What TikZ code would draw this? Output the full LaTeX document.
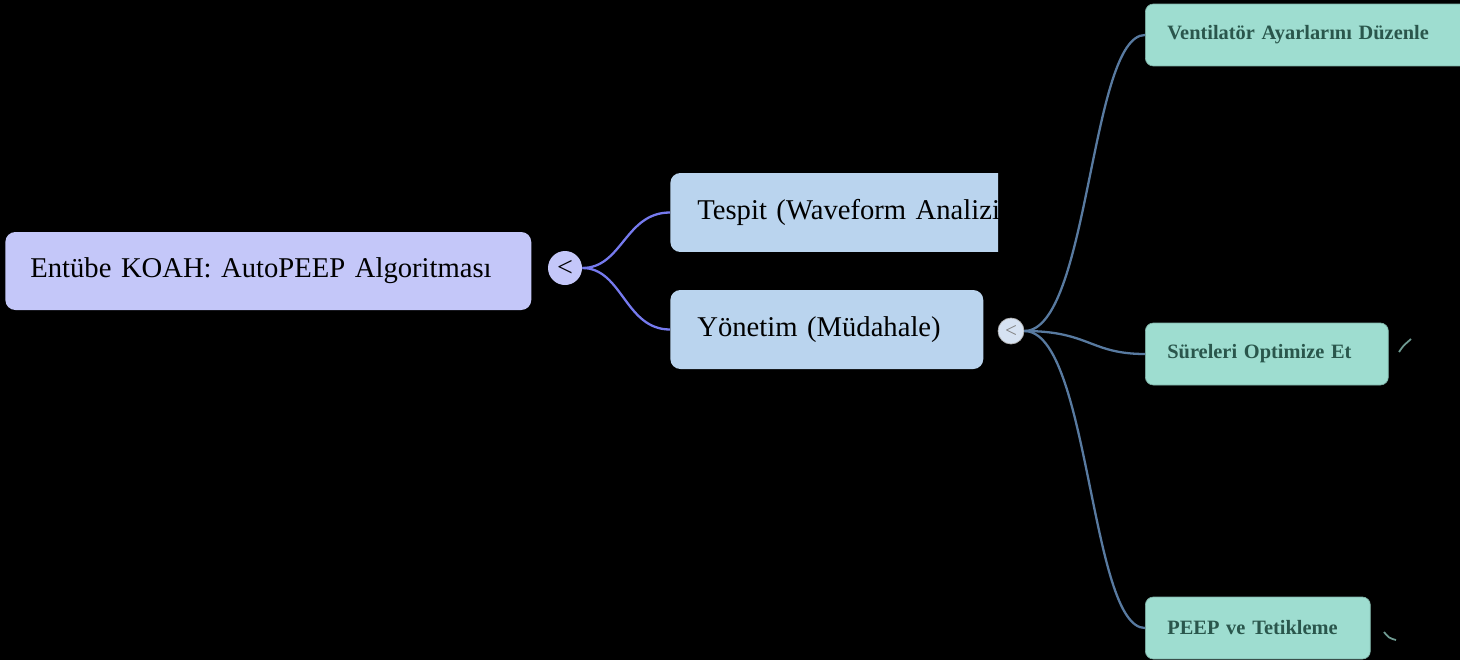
\documentclass[tikz,border=0pt]{standalone}
\usepackage{fontspec}
\setmainfont{Liberation Serif}
\usepackage{tikz}
\usetikzlibrary{positioning, calc}

\definecolor{rootfill}{RGB}{196,199,249}
\definecolor{rootedge}{RGB}{118,122,238}
\definecolor{midfill}{RGB}{186,212,238}
\definecolor{tglfill}{RGB}{214,226,242}
\definecolor{leafedge}{RGB}{88,122,160}
\definecolor{leaffill}{RGB}{158,221,208}
\definecolor{leaftext}{RGB}{42,86,76}

\begin{document}
\begin{tikzpicture}[
    x=0.02cm, y=-0.02cm,
    rootbox/.style={rectangle, rounded corners=0.2cm, fill=rootfill, anchor=west,
        minimum height=1.56cm, inner xsep=0.5cm, align=left,
        font=\fontsize{16.3}{19}\selectfont},
    midbox/.style={rectangle, rounded corners=0.2cm, fill=midfill, anchor=west,
        minimum height=1.58cm, inner xsep=0.54cm, align=left,
        font=\fontsize{16.3}{19}\selectfont},
    leafbox/.style={rectangle, rounded corners=0.16cm, fill=leaffill, draw=leaffill!80!black,
        line width=0.4pt, anchor=west, minimum height=1.24cm, inner xsep=0.44cm,
        align=left, text=leaftext, font=\fontsize{11.6}{14}\selectfont\bfseries},
    toggle/.style={circle, inner sep=0pt, font=\fontsize{16}{16}\selectfont},
    rootlink/.style={draw=rootedge, line width=1.3pt},
    leaflink/.style={draw=leafedge, line width=1.3pt},
]
\fill[black] (0,0) rectangle (1460,660);
\useasboundingbox (0,0) rectangle (1460,660);
\clip (0,0) rectangle (1460,660);

% root and its toggle
\node[rootbox, text width=9.52cm](root) at (5,271){\mbox{Entübe KOAH: AutoPEEP Algoritması}};
\node[toggle, fill=rootfill, minimum size=0.68cm](tgl1) at (565,268){<};

% second level
\begin{scope}
\clip (660,160) rectangle (998,260);
\node[midbox, text width=7cm](tespit) at (670,212.5){Tespit (Waveform Analizi};
\end{scope}
\node[midbox, text width=5.18cm](yonetim) at (670,329.5){Yönetim (Müdahale)};
\node[toggle, fill=tglfill, draw=gray!60, minimum size=0.52cm, text=gray,
    font=\fontsize{12}{12}\selectfont](tgl2) at (1011,331){<};

\draw[rootlink] (tgl1.east) .. controls +(40,0) and +(-45,0) .. (tespit.west);
\draw[rootlink] (tgl1.east) .. controls +(40,0) and +(-45,0) .. (yonetim.west);

% leaves
\node[leafbox, text width=8cm](ventilator) at (1145,35){Ventilatör Ayarlarını Düzenle};
\node[leafbox, text width=3.98cm](sureleri) at (1145,354){Süreleri Optimize Et};
\node[leafbox, text width=3.62cm](peep) at (1145,628){PEEP ve Tetikleme};

\draw[leaflink] (tgl2.east) .. controls +(65,0) and +(-55,0) .. (ventilator.west);
\draw[leaflink] (tgl2.east) .. controls +(65,0) and +(-55,0) .. (sureleri.west);
\draw[leaflink] (tgl2.east) .. controls +(65,0) and +(-55,0) .. (peep.west);

% bits of hidden links
\coordinate (s1) at (1399,352);
\coordinate (s2) at (1411,339);
\draw[leaffill!70!black, line width=1pt] (s1) .. controls +(4,-6) .. (s2);
\coordinate (p1) at (1384,632);
\coordinate (p2) at (1396,640);
\draw[leaffill!70!black, line width=1pt] (p1) .. controls +(5,6) .. (p2);
\end{tikzpicture}
\end{document}
